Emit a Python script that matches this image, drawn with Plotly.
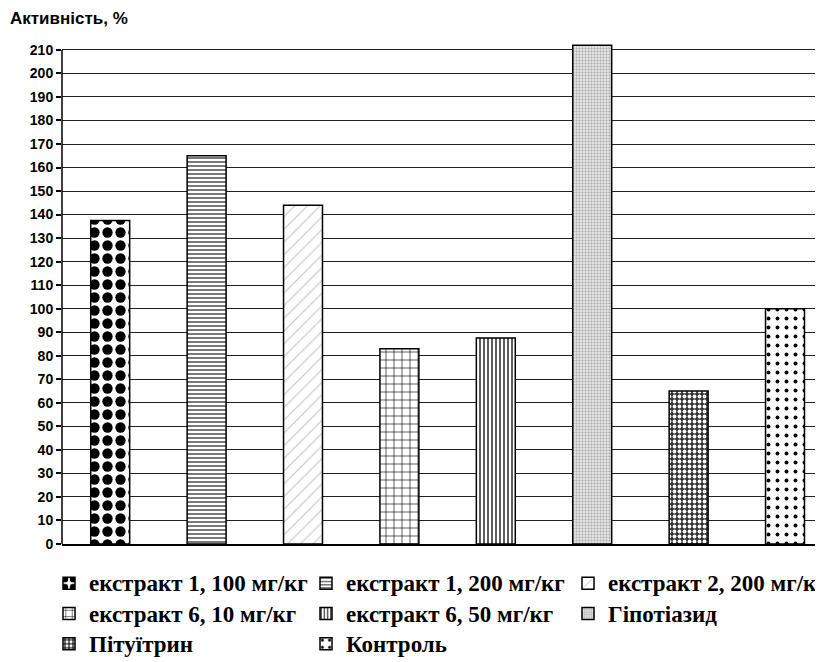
import plotly.graph_objects as go

series_names = [
    "екстракт 1, 100 мг/кг",
    "екстракт 1, 200 мг/кг",
    "екстракт 2, 200 мг/кг",
    "екстракт 6, 10 мг/кг",
    "екстракт 6, 50 мг/кг",
    "Гіпотіазид",
    "Пітуїтрин",
    "Контроль",
]
activity = [137.5, 165, 144, 83, 87.5, 212, 65, 100]
y_ticks = list(range(0, 211, 10))
axis_title = "Активність, %"

patterns = [
    dict(shape=".", fgcolor="#000000", bgcolor="white", size=13, solidity=0.5, fgopacity=1),
    dict(shape="-", fgcolor="#555555", bgcolor="white", size=4, solidity=0.4, fgopacity=1),
    dict(shape="/", fgcolor="#c4c4c4", bgcolor="white", size=9, solidity=0.12, fgopacity=1),
    dict(shape="+", fgcolor="#000000", bgcolor="white", size=8, solidity=0.15, fgopacity=1),
    dict(shape="|", fgcolor="#333333", bgcolor="white", size=4, solidity=0.4, fgopacity=1),
    dict(shape=".", fgcolor="#a8a8a8", bgcolor="#e4e4e4", size=3, solidity=0.35, fgopacity=1),
    dict(shape=".", fgcolor="white", bgcolor="#333333", size=5, solidity=0.45, fgopacity=1),
    dict(shape=".", fgcolor="#000000", bgcolor="white", size=9, solidity=0.15, fgopacity=1),
]
legend_of = ["legend", "legend2", "legend3", "legend", "legend2", "legend3", "legend", "legend2"]

# figure drawn inside the page's 8px body margin
W, H = 815, 654

fig = go.Figure()
for i, (name, val) in enumerate(zip(series_names, activity)):
    fig.add_trace(go.Bar(
        x=[i], y=[val], name='<span style="font-size:23px">' + name + "</span>",
        width=0.404,
        marker=dict(color="white", line=dict(color="black", width=1.5), pattern=patterns[i]),
        legend=legend_of[i], legendgroup=name, cliponaxis=False,
        showlegend=True,
    ))

legend_font = dict(family="Liberation Serif", size=21, color="black", weight="bold")
common = dict(xref="container", yref="container", xanchor="left", yanchor="top",
              font=legend_font, bgcolor="rgba(0,0,0,0)", tracegroupgap=0,
              orientation="v")
leg_y = 1 - 555 / H

fig.update_layout(
    width=W, height=H,
    margin=dict(l=54, r=0, t=35.6, b=H - 536.3, autoexpand=False),
    paper_bgcolor="white", plot_bgcolor="white",
    barmode="overlay",
    showlegend=True,
    legend=dict(x=41 / W, y=leg_y, **common),
    legend2=dict(x=298 / W, y=leg_y, **common),
    legend3=dict(x=560 / W, y=leg_y, **common),
    title=dict(text=axis_title, xref="container", yref="container", x=2 / W, xanchor="left",
               y=1 - 10 / H, yanchor="middle",
               font=dict(family="Arial, Liberation Sans", size=17, color="black", weight="bold")),
    xaxis=dict(range=[-0.5, 7.394], showticklabels=False, ticks="", showgrid=False,
               showline=True, linecolor="black", linewidth=1.5, zeroline=False),
    yaxis=dict(range=[0, 212.5], tickvals=y_ticks, ticks="outside", ticklen=5, tickwidth=1.5,
               tickcolor="black", showline=False,
               showgrid=True, gridcolor="#222222", gridwidth=1.4, zeroline=False,
               tickfont=dict(family="Arial, Liberation Sans", size=14, color="black", weight="bold")),
    shapes=[dict(type="line", xref="paper", yref="y", x0=0, x1=0, y0=0, y1=max(y_ticks),
                 line=dict(color="black", width=1.5), layer="above")],
)

fig.write_html("out.html")
